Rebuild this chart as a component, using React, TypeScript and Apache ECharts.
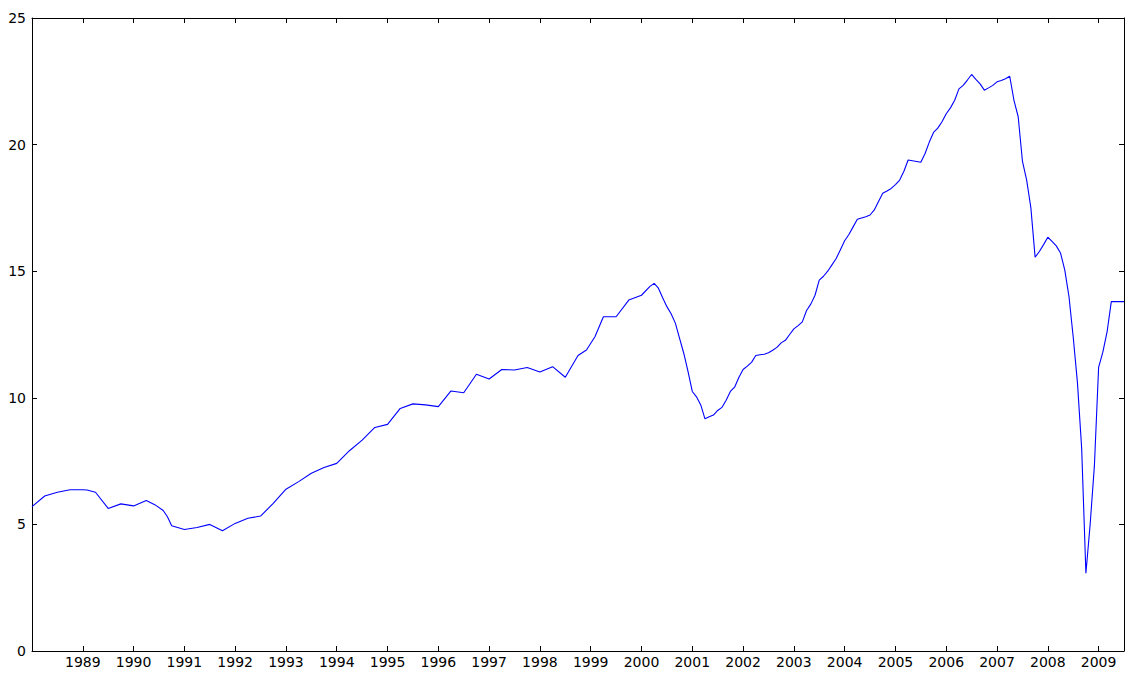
import React, { useEffect, useRef } from "react";
import * as echarts from "echarts";

const dates: string[] = [
  "1988-01", "1988-04", "1988-07", "1988-10", "1989-01", "1989-02", "1989-04", "1989-07", "1989-10",
  "1990-01", "1990-04", "1990-06", "1990-08", "1990-09", "1990-10",
  "1991-01", "1991-04", "1991-07", "1991-10",
  "1992-01", "1992-04", "1992-07", "1992-10",
  "1993-01", "1993-04", "1993-07", "1993-10",
  "1994-01", "1994-04", "1994-07", "1994-10",
  "1995-01", "1995-04", "1995-07", "1995-10",
  "1996-01", "1996-04", "1996-07", "1996-10",
  "1997-01", "1997-04", "1997-07", "1997-10",
  "1998-01", "1998-04", "1998-07", "1998-10", "1998-12",
  "1999-02", "1999-04", "1999-07", "1999-10",
  "2000-01", "2000-03", "2000-04", "2000-05", "2000-06", "2000-07", "2000-08", "2000-09", "2000-10", "2000-11", "2000-12",
  "2001-01", "2001-02", "2001-03", "2001-04", "2001-05", "2001-06", "2001-07", "2001-08", "2001-09", "2001-10", "2001-11", "2001-12",
  "2002-01", "2002-02", "2002-03", "2002-04", "2002-05", "2002-06", "2002-07", "2002-08", "2002-09", "2002-10", "2002-11", "2002-12",
  "2003-01", "2003-02", "2003-03", "2003-04", "2003-05", "2003-06", "2003-07", "2003-08", "2003-09", "2003-10", "2003-11", "2003-12",
  "2004-01", "2004-02", "2004-03", "2004-04", "2004-05", "2004-06", "2004-07", "2004-08", "2004-09", "2004-10", "2004-11", "2004-12",
  "2005-01", "2005-02", "2005-03", "2005-04", "2005-05", "2005-06", "2005-07", "2005-08", "2005-09", "2005-10", "2005-11", "2005-12",
  "2006-01", "2006-02", "2006-03", "2006-04", "2006-05", "2006-06", "2006-07", "2006-08", "2006-09", "2006-10", "2006-11", "2006-12",
  "2007-01", "2007-02", "2007-03", "2007-04", "2007-05", "2007-06", "2007-07", "2007-08", "2007-09", "2007-10", "2007-11", "2007-12",
  "2008-01", "2008-02", "2008-03", "2008-04", "2008-05", "2008-06", "2008-07", "2008-08", "2008-09", "2008-10", "2008-11", "2008-12",
  "2009-01", "2009-02", "2009-03", "2009-04", "2009-05", "2009-06", "2009-07",
];

const values: number[] = [
  5.70, 6.12, 6.27, 6.37, 6.37, 6.36, 6.27, 5.63, 5.81,
  5.73, 5.94, 5.78, 5.55, 5.30, 4.95,
  4.80, 4.88, 5.00, 4.75,
  5.04, 5.24, 5.33, 5.83,
  6.39, 6.69, 7.02, 7.25,
  7.41, 7.91, 8.33, 8.83,
  8.95, 9.58, 9.76, 9.72,
  9.65, 10.27, 10.20, 10.93,
  10.74, 11.12, 11.10, 11.20,
  11.02, 11.23, 10.81, 11.67, 11.89,
  12.41, 13.20, 13.20, 13.86,
  14.05, 14.40, 14.52, 14.33, 13.95, 13.60, 13.32, 12.95, 12.35, 11.75, 11.03,
  10.25, 10.04, 9.72, 9.17, 9.25, 9.32, 9.50, 9.62, 9.90, 10.25, 10.42, 10.80,
  11.12, 11.25, 11.40, 11.67, 11.70, 11.72, 11.78, 11.88, 11.99, 12.17, 12.27, 12.50,
  12.72, 12.85, 13.00, 13.45, 13.70, 14.05, 14.65, 14.80, 15.00, 15.25, 15.50, 15.85,
  16.20, 16.45, 16.75, 17.05, 17.10, 17.15, 17.22, 17.42, 17.75, 18.08, 18.17, 18.27,
  18.42, 18.60, 18.95, 19.39, 19.36, 19.33, 19.30, 19.65, 20.10, 20.48, 20.65, 20.90,
  21.22, 21.45, 21.75, 22.20, 22.34, 22.55, 22.77, 22.58, 22.40, 22.15, 22.24, 22.34,
  22.48, 22.53, 22.60, 22.70, 21.75, 21.10, 19.35, 18.60, 17.50, 15.55, 15.78, 16.05,
  16.34, 16.18, 16.00, 15.72, 15.05, 14.00, 12.40, 10.60, 8.00, 3.07, 5.00, 7.30,
  11.20, 11.80, 12.60, 13.80, 13.80, 13.80, 13.80,
];

const yearTicks: number[] = [1989, 1990, 1991, 1992, 1993, 1994, 1995, 1996, 1997, 1998, 1999, 2000, 2001, 2002, 2003, 2004, 2005, 2006, 2007, 2008, 2009];

const toYear = (s: string): number => {
  const [y, m] = s.split("-").map(Number);
  return y + (m - 1) / 12;
};

export default function App() {
  const ref = useRef<HTMLDivElement>(null);
  useEffect(() => {
    if (!ref.current) return;
    const chart = echarts.init(ref.current, undefined, { renderer: "svg" });
    const font = "'DejaVu Sans', sans-serif";
    const frameAxis = {
      axisLine: { show: true, onZero: false, lineStyle: { color: "#000", width: 1 } },
      axisTick: { show: true, inside: true, length: 5, lineStyle: { color: "#000", width: 1 } },
      splitLine: { show: false },
    };
    chart.setOption({
      animation: false,
      backgroundColor: "#fff",
      grid: { left: 32, right: 7, top: 18, bottom: 24, containLabel: false },
      xAxis: [
        {
          type: "value",
          min: 1988,
          max: 2009.5,
          interval: 1,
          position: "bottom",
          ...frameAxis,
          axisLabel: {
            show: true,
            color: "#000",
            fontSize: 14,
            fontFamily: font,
            margin: 4,
            formatter: (v: number) => (yearTicks.includes(v) ? String(v) : ""),
          },
        },
        {
          type: "value",
          min: 1988,
          max: 2009.5,
          interval: 1,
          position: "top",
          ...frameAxis,
          axisLabel: { show: false },
        },
      ],
      yAxis: [
        {
          type: "value",
          min: 0,
          max: 25,
          interval: 5,
          position: "left",
          ...frameAxis,
          axisLabel: { show: true, color: "#000", fontSize: 14, fontFamily: font, margin: 6 },
        },
        {
          type: "value",
          min: 0,
          max: 25,
          interval: 5,
          position: "right",
          ...frameAxis,
          axisLabel: { show: false },
        },
      ],
      series: [
        {
          type: "line",
          xAxisIndex: 0,
          yAxisIndex: 0,
          showSymbol: false,
          symbol: "none",
          lineStyle: { color: "#0000ff", width: 1.1 },
          data: dates.map((d, i) => [toYear(d), values[i]]),
        },
      ],
    });
    return () => chart.dispose();
  }, []);
  return (
    <div
      ref={ref}
      style={{ position: "absolute", left: 0, top: 0, width: 1131, height: 675 }}
    />
  );
}
